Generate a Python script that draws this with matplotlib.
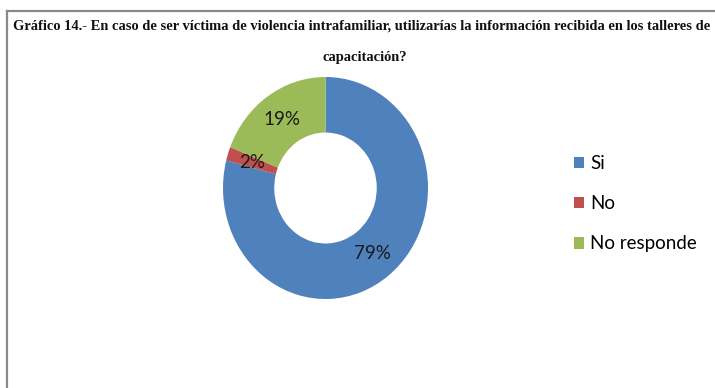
import matplotlib
matplotlib.use("Agg")
import matplotlib.pyplot as plt
from matplotlib.patches import Patch
from matplotlib.lines import Line2D

categories = ["Si", "No", "No responde"]
values = [79, 2, 19]
colors = ["#4F81BD", "#C0504D", "#9BBB59"]
title_lines = ["Gráfico 14.- En caso de ser víctima de violencia intrafamiliar, utilizarías "
               "la información recibida en los talleres de",
               "capacitación?"]

W, H = 715, 388
fig = plt.figure(figsize=(W / 100, H / 100), dpi=100)
fig.patch.set_facecolor("white")

# chart frame (top and left borders)
fig.add_artist(Line2D([6.5 / W, 6.5 / W], [0, 1 - 11 / H], transform=fig.transFigure,
                      color="#8a8a8a", lw=1.6))
fig.add_artist(Line2D([6.5 / W, 1], [1 - 11 / H, 1 - 11 / H], transform=fig.transFigure,
                      color="#8a8a8a", lw=1.6))

# donut axes
cx, cy, rx, ry = 325.5, 188, 102.5, 111
ax = fig.add_axes([(cx - rx) / W, 1 - (cy + ry) / H, 2 * rx / W, 2 * ry / H])
wedges, texts, autotexts = ax.pie(
    values, colors=colors, startangle=90, counterclock=False,
    radius=1, wedgeprops=dict(width=0.5, linewidth=0),
    autopct=lambda p: f"{p:.0f}%", pctdistance=0.75,
    textprops=dict(fontsize=13.5, color="#1a1a1a", family="Lato"))
ax.set_aspect("auto")
ax.set_xlim(-1, 1)
ax.set_ylim(-1, 1)

# title: size the long first line so it spans the frame width
tstyle = dict(ha="center", va="center", fontweight="bold",
              family="Liberation Serif", color="#111111")
t1 = fig.text(362 / W, 1 - 26 / H, title_lines[0], fontsize=12, **tstyle)
renderer = fig.canvas.get_renderer()
w1 = t1.get_window_extent(renderer).width
fs = 12 * 696 / w1
t1.set_fontsize(fs)
fig.text(365 / W, 1 - 58 / H, title_lines[1], fontsize=fs, **tstyle)

handles = [Patch(facecolor=c, edgecolor="none") for c in colors]
fig.legend(handles, categories, loc="upper left",
           bbox_to_anchor=(574 / W, 1 - 155 / H), frameon=False,
           prop=dict(family="Lato", size=13.5), handlelength=0.55,
           handleheight=0.55, handletextpad=0.3, labelspacing=1.24,
           borderaxespad=0, borderpad=0)

fig.savefig("out.png", dpi=100, facecolor="white")
